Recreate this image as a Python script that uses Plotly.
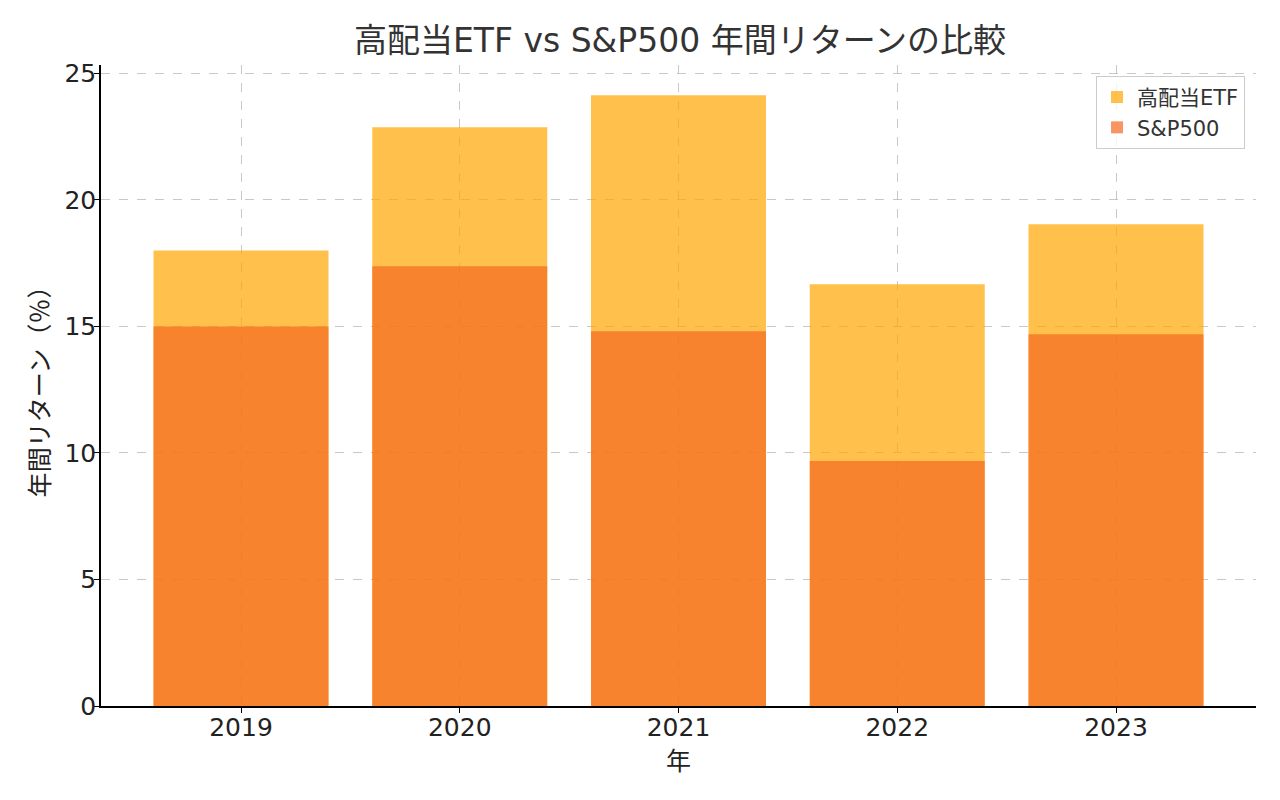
import plotly.graph_objects as go

years = ["2019", "2020", "2021", "2022", "2023"]
etf_returns = [18.0, 22.87, 24.13, 16.67, 19.04]
sp500_returns = [15.0, 17.38, 14.81, 9.68, 14.69]

title_text = "高配当ETF vs S&P500 年間リターンの比較"
x_label = "年"
y_label = "年間リターン（％）"
etf_name = "高配当ETF"
sp_name = "S&P500"

font_family = "DejaVu Sans, Noto Sans CJK JP, sans-serif"

fig = go.Figure()
fig.add_trace(go.Bar(x=years, y=etf_returns, name=etf_name,
                     marker=dict(color="rgba(255,165,0,0.7)", line=dict(width=0)),
                     width=0.8))
fig.add_trace(go.Bar(x=years, y=sp500_returns, name=sp_name,
                     marker=dict(color="rgba(244,105,34,0.7)", line=dict(width=0)),
                     width=0.8))

grid = dict(showgrid=True, gridcolor="rgba(176,176,176,0.7)", griddash="dash", gridwidth=1)

fig.update_layout(
    barmode="overlay",
    width=1280, height=800,
    paper_bgcolor="white", plot_bgcolor="white",
    margin=dict(l=93, r=32, t=57, b=102),
    font=dict(family=font_family, color="#222222"),
    title=dict(text=title_text, x=0.525, xanchor="center", y=0.96, yanchor="middle",
               font=dict(size=33, color="#333333")),
    xaxis=dict(type="category", range=[-0.64, 4.64], **grid,
               showline=True, linecolor="black", linewidth=1.5,
               ticks="outside", ticklen=5, tickcolor="black",
               ticklabelstandoff=-7,
               tickfont=dict(size=25, color="#222222"),
               title=dict(text=x_label, font=dict(size=25), standoff=12),
               layer="above traces", zeroline=False, automargin=False),
    yaxis=dict(range=[0, 25.33], tickvals=[0, 5, 10, 15, 20, 25], **grid,
               showline=True, linecolor="black", linewidth=1.5,
               ticks="outside", ticklen=5, tickcolor="black",
               ticklabelstandoff=-7,
               tickfont=dict(size=25, color="#222222"),
               title=dict(text=y_label, font=dict(size=25), standoff=8),
               layer="above traces", zeroline=False, automargin=False),
    legend=dict(x=0.9905, y=0.983, xanchor="right", yanchor="top",
                bgcolor="rgba(255,255,255,0.8)", bordercolor="#cccccc", borderwidth=1,
                font=dict(size=21, color="#333333"), traceorder="normal"),
    showlegend=True,
)

fig.write_html("out.html")
